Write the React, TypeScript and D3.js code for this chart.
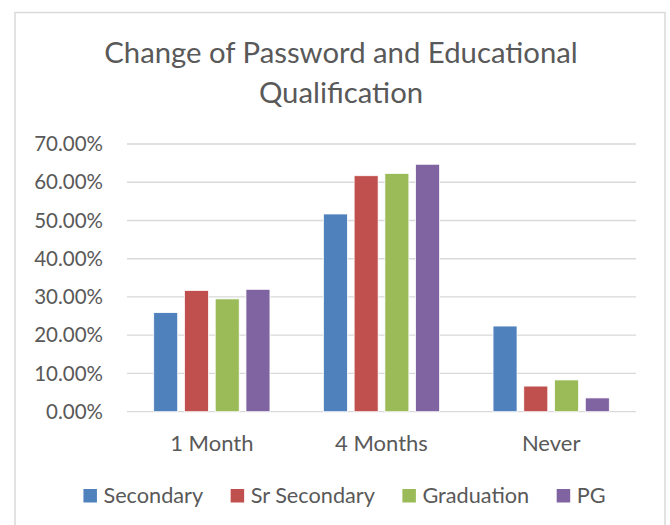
import React, { useEffect, useRef } from 'react';
import * as d3 from 'd3';

const categories = ['1 Month', '4 Months', 'Never'];
const seriesNames = ['Secondary', 'Sr Secondary', 'Graduation', 'PG'];
const secondary = [0.259, 0.517, 0.224];
const srSecondary = [0.317, 0.617, 0.067];
const graduation = [0.295, 0.623, 0.083];
const pg = [0.32, 0.647, 0.036];
const yTicks = [0, 0.1, 0.2, 0.3, 0.4, 0.5, 0.6, 0.7];
const colors = ['#4f81bd', '#c0504d', '#9bbb59', '#8064a2'];

const FONT = 'Lato, sans-serif';
const TEXT = '#595959';

function App() {
  const ref = useRef<SVGSVGElement>(null);

  useEffect(() => {
    const svg = d3.select(ref.current);
    svg.selectAll('*').remove();

    const seriesValues = [secondary, srSecondary, graduation, pg];
    const rows = categories.map((c, i) => ({
      cat: c,
      vals: seriesNames.map((s, j) => ({ name: s, value: seriesValues[j][i], idx: j })),
    }));

    // chart frame
    svg.append('rect')
      .attr('x', 15).attr('y', 12.5)
      .attr('width', 650).attr('height', 530)
      .attr('fill', 'white')
      .attr('stroke', '#d9d9d9')
      .attr('stroke-width', 1.5);

    // title
    const title = svg.append('text')
      .attr('text-anchor', 'middle')
      .attr('font-family', FONT)
      .attr('font-size', 29.3)
      .attr('fill', TEXT);
    title.append('tspan').attr('x', 341).attr('y', 62.5).text('Change of Password and Educational');
    title.append('tspan').attr('x', 341).attr('y', 103).text('Qualification');

    const left = 127, right = 636, top = 144, bottom = 411.7;

    const x0 = d3.scaleBand()
      .domain(categories)
      .range([left, right])
      .paddingInner(0.275)
      .paddingOuter(0.1375);

    const x1 = d3.scaleBand()
      .domain(seriesNames)
      .range([0, x0.bandwidth()])
      .paddingInner(0.22)
      .paddingOuter(0.11);

    const y = d3.scaleLinear().domain([0, 0.7]).range([bottom, top]);

    // gridlines
    svg.append('g')
      .selectAll('line')
      .data(yTicks)
      .enter()
      .append('line')
      .attr('x1', left).attr('x2', right)
      .attr('y1', d => y(d)).attr('y2', d => y(d))
      .attr('stroke', '#d9d9d9')
      .attr('stroke-width', 1.3);

    // y labels
    svg.append('g')
      .selectAll('text')
      .data(yTicks)
      .enter()
      .append('text')
      .attr('x', 103)
      .attr('y', d => y(d))
      .attr('dy', '0.35em')
      .attr('text-anchor', 'end')
      .attr('font-family', FONT)
      .attr('font-size', 20.5)
      .attr('fill', TEXT)
      .text(d => d3.format('.2%')(d));

    // bars
    const groups = svg.append('g')
      .selectAll('g')
      .data(rows)
      .enter()
      .append('g')
      .attr('transform', d => `translate(${x0(d.cat)}, 0)`);

    groups.selectAll('rect')
      .data(d => d.vals)
      .enter()
      .append('rect')
      .attr('x', d => x1(d.name)!)
      .attr('y', d => y(d.value))
      .attr('width', x1.bandwidth())
      .attr('height', d => bottom - y(d.value))
      .attr('fill', d => colors[d.idx])
      .attr('stroke', 'white')
      .attr('stroke-width', 0.75);

    // category labels
    svg.append('g')
      .selectAll('text')
      .data(categories)
      .enter()
      .append('text')
      .attr('x', d => x0(d)! + x0.bandwidth() / 2)
      .attr('y', 450.5)
      .attr('text-anchor', 'middle')
      .attr('font-family', FONT)
      .attr('font-size', 22)
      .attr('fill', TEXT)
      .text(d => d);

    // legend
    const legend = svg.append('g');
    const items = legend.selectAll('g')
      .data(seriesNames)
      .enter()
      .append('g');
    items.append('rect')
      .attr('width', 13.5).attr('height', 13.5)
      .attr('y', 489)
      .attr('fill', (d, i) => colors[i]);
    items.append('text')
      .attr('x', 20)
      .attr('y', 503.3)
      .attr('font-family', FONT)
      .attr('font-size', 21.7)
      .attr('fill', TEXT)
      .text(d => d);

    const widths: number[] = [];
    items.each(function () {
      const t = d3.select(this).select('text').node() as SVGTextElement;
      widths.push(20 + t.getComputedTextLength());
    });
    const gap = 27.5;
    const total = d3.sum(widths) + gap * (widths.length - 1);
    let cx = 344.5 - total / 2;
    items.attr('transform', (d, i) => {
      const tx = cx;
      cx += widths[i] + gap;
      return `translate(${tx}, 0)`;
    });
  }, []);

  return (
    <svg ref={ref} width={670} height={525}
      style={{ position: 'absolute', left: 0, top: 0, background: 'white' }} />
  );
}

export default App;
